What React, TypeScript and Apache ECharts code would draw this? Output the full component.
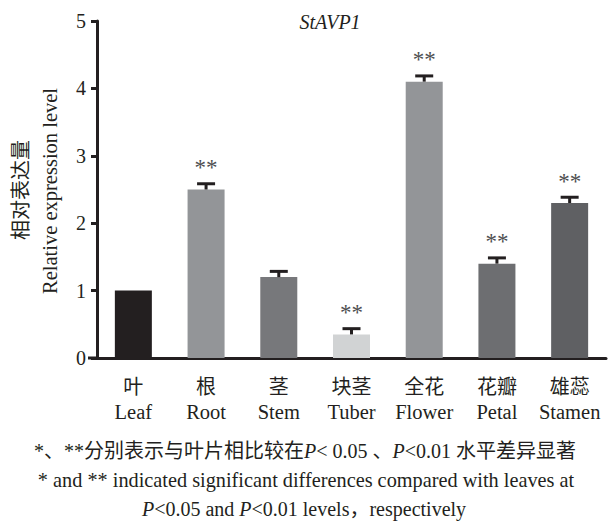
import React, { useEffect, useRef } from "react";
import * as echarts from "echarts";

const categoriesEn = ["Leaf", "Root", "Stem", "Tuber", "Flower", "Petal", "Stamen"];
const categoriesCn = ["叶", "根", "茎", "块茎", "全花", "花瓣", "雄蕊"];
const values = [1.0, 2.5, 1.2, 0.35, 4.1, 1.4, 2.3];
const errors = [0, 0.1, 0.1, 0.1, 0.1, 0.1, 0.1];
const significance = ["", "**", "", "**", "**", "**", "**"];
const barColors = ["#231f20", "#939598", "#77787b", "#d1d3d4", "#939598", "#6d6e71", "#5f6063"];
const yMin = 0;
const yMax = 5;
const yInterval = 1;
const title = "StAVP1";
const yNameCn = "相对表达量";
const yNameEn = "Relative expression level";
const caption1 = "*、**分别表示与叶片相比较在{i|P}< 0.05 、{i|P}<0.01 水平差异显著";
const caption2 = "* and ** indicated significant differences compared with leaves at";
const caption3 = "{i|P}<0.05 and {i|P}<0.01 levels，respectively";

const SERIF = '"Liberation Serif", "Times New Roman", "Noto Sans CJK SC", serif';
const INK = "#231f20";

export default function App() {
  const ref = useRef<HTMLDivElement>(null);
  useEffect(() => {
    if (!ref.current) return;
    const chart = echarts.init(ref.current, undefined, { renderer: "svg" });
    const italicRich = {
      i: { fontStyle: "italic", fontFamily: SERIF, fontSize: 20, fill: INK },
    };
    chart.setOption({
      animation: false,
      backgroundColor: "#ffffff",
      grid: { left: 97, right: 4, top: 21, bottom: 169, containLabel: false },
      xAxis: {
        type: "category",
        data: categoriesEn,
        boundaryGap: true,
        axisLine: { lineStyle: { color: INK, width: 3 } },
        axisTick: { alignWithLabel: true, length: 8, lineStyle: { color: INK, width: 3 } },
        axisLabel: {
          margin: 16,
          interval: 0,
          formatter: (v: string, i: number) => `{cn|${categoriesCn[i]}}\n{en|${v}}`,
          rich: {
            cn: { fontFamily: SERIF, fontSize: 20, color: INK, lineHeight: 25 },
            en: { fontFamily: SERIF, fontSize: 20.5, color: INK, lineHeight: 25 },
          },
        },
      },
      yAxis: {
        type: "value",
        min: yMin,
        max: yMax,
        interval: yInterval,
        splitLine: { show: false },
        axisLine: { show: true, lineStyle: { color: INK, width: 3 } },
        axisTick: { show: true, length: 6, lineStyle: { color: INK, width: 3 } },
        axisLabel: { fontFamily: SERIF, fontSize: 20, color: INK, margin: 11 },
      },
      series: [
        {
          type: "bar",
          barWidth: 37,
          data: values.map((v, i) => ({ value: v, itemStyle: { color: barColors[i] } })),
        },
        {
          type: "custom",
          data: values.map((v, i) => [i, v, errors[i]]),
          renderItem: (params: any, api: any) => {
            const idx = api.value(0);
            const v = api.value(1);
            const e = api.value(2);
            const base = api.coord([idx, v]);
            const top = api.coord([idx, v + e]);
            const children: any[] = [];
            if (e > 0) {
              children.push({
                type: "line",
                shape: { x1: base[0], y1: base[1], x2: top[0], y2: top[1] + 1 },
                style: { stroke: INK, lineWidth: 3 },
              });
              children.push({
                type: "line",
                shape: { x1: top[0] - 9, y1: top[1] + 1, x2: top[0] + 9, y2: top[1] + 1 },
                style: { stroke: INK, lineWidth: 3 },
              });
            }
            const sig = significance[idx];
            if (sig) {
              children.push({
                type: "text",
                style: {
                  text: sig,
                  x: top[0],
                  y: top[1] - 15,
                  align: "center",
                  verticalAlign: "middle",
                  fontFamily: SERIF,
                  fontSize: 23,
                  fill: "#4d4e50",
                },
              });
            }
            return { type: "group", children };
          },
          z: 5,
        },
      ],
      graphic: [
        {
          type: "line",
          shape: { x1: 88, y1: 358, x2: 98, y2: 358 },
          style: { stroke: INK, lineWidth: 3 },
        },
        {
          type: "text",
          x: 330,
          y: 22,
          style: {
            text: title,
            align: "center",
            verticalAlign: "middle",
            fontFamily: SERIF,
            fontStyle: "italic",
            fontSize: 20,
            fill: INK,
          },
        },
        {
          type: "text",
          x: 21,
          y: 190,
          rotation: Math.PI / 2,
          style: {
            text: yNameCn,
            align: "center",
            verticalAlign: "middle",
            fontFamily: SERIF,
            fontSize: 20,
            fill: INK,
          },
        },
        {
          type: "text",
          x: 50,
          y: 191,
          rotation: Math.PI / 2,
          style: {
            text: yNameEn,
            align: "center",
            verticalAlign: "middle",
            fontFamily: SERIF,
            fontSize: 20.5,
            fill: INK,
          },
        },
        {
          type: "text",
          x: 305,
          y: 451,
          style: {
            text: caption1,
            rich: italicRich,
            align: "center",
            verticalAlign: "middle",
            fontFamily: SERIF,
            fontSize: 20,
            fill: INK,
          },
        },
        {
          type: "text",
          x: 306,
          y: 480,
          style: {
            text: caption2,
            align: "center",
            verticalAlign: "middle",
            fontFamily: SERIF,
            fontSize: 20.3,
            fill: INK,
          },
        },
        {
          type: "text",
          x: 304,
          y: 509,
          style: {
            text: caption3,
            rich: italicRich,
            align: "center",
            verticalAlign: "middle",
            fontFamily: SERIF,
            fontSize: 20,
            fill: INK,
          },
        },
      ],
    });
    return () => chart.dispose();
  }, []);
  return (
    <div
      ref={ref}
      style={{ position: "absolute", left: 0, top: 0, width: 610, height: 527 }}
    />
  );
}
